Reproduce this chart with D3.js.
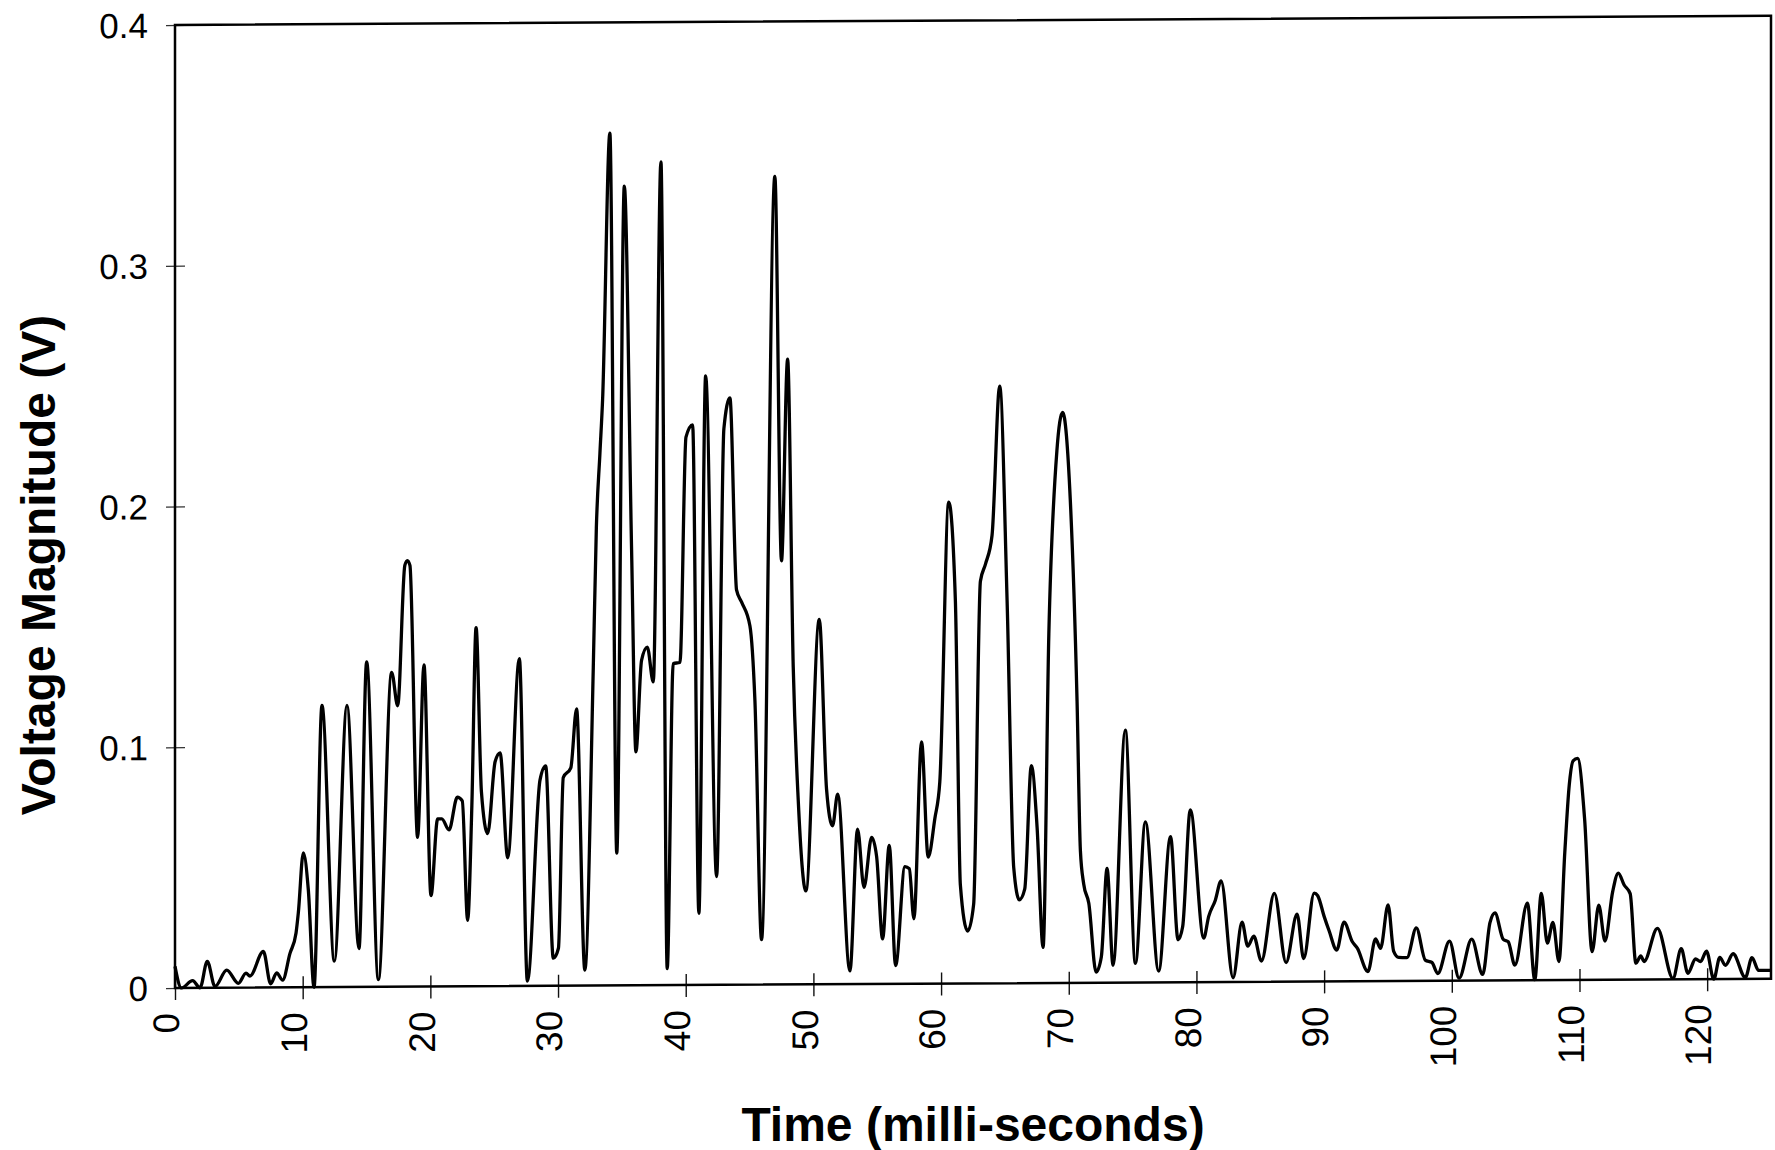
<!DOCTYPE html>
<html>
<head>
<meta charset="utf-8">
<script src="https://cdn.jsdelivr.net/npm/d3@7"></script>
<style>
  body { margin: 0; background: #fff; }
  svg { display: block; }
</style>
</head>
<body>
<div id="graphe"></div>
<script>
//----------------------------------------------------------------
// data read off the scanned plot : time (ms) and voltage (V)
//----------------------------------------------------------------
var temps = [
  0, 0.5, 1.38, 1.96, 2.53, 3.13, 4.05, 4.96, 5.56, 5.87, 6.92, 7.49, 7.96, 8.43, 9.0, 9.48, 9.66,
  10.05, 10.44, 10.89, 11.51, 12.48, 13.47, 14.41, 15.01, 15.93, 16.97, 17.44, 18.0, 18.2, 18.4,
  19.0, 19.5, 20.05, 20.57, 20.9, 21.46, 22.11, 22.5, 22.92, 23.25, 23.58, 24.0, 24.49, 25.07,
  25.46, 26.06, 26.97, 27.6, 28.59, 29.03, 29.63, 30.03, 30.41, 31.0, 31.45, 32.1, 32.76, 33.0,
  33.28, 33.49, 34.06, 34.6, 35.19, 35.76, 36.1, 36.54, 36.99, 37.46, 38.06, 38.55, 39.02, 39.55,
  40.02, 40.54, 41.03, 41.56, 42.42, 42.99, 43.46, 43.98, 44.37, 45.03, 45.42, 45.94, 46.98, 47.5,
  47.98, 48.42, 48.81, 49.41, 50.46, 51.03, 51.5, 51.9, 52.86, 53.46, 53.96, 54.56, 54.95, 55.42,
  55.94, 56.44, 57.17, 57.51, 57.87, 58.47, 58.99, 59.51, 59.9, 60.6, 61.12, 61.51, 62.08, 62.55,
  63.08, 63.47, 63.99, 64.59, 65.17, 65.69, 66.13, 66.55, 67.07, 67.52, 67.99, 68.44, 69.07, 69.52,
  70.12, 70.65, 70.91, 71.17, 71.57, 72.14, 72.55, 73.0, 73.47, 74.43, 75.22, 76.0, 77.04, 77.97,
  78.56, 78.92, 79.52, 80.57, 80.96, 81.48, 81.93, 82.87, 83.57, 84.02, 84.49, 85.09, 86.1, 87.02,
  87.88, 88.4, 89.22, 89.5, 90.0, 90.39, 90.99, 91.56, 92.2, 92.6, 93.43, 94.03, 94.42, 95.01,
  95.45, 95.84, 96.49, 97.22, 97.92, 98.44, 98.9, 99.82, 100.57, 101.56, 102.42, 102.99, 103.38,
  104.03, 104.42, 104.94, 105.92, 106.5, 107.01, 107.48, 107.92, 108.39, 108.85, 109.2, 109.5,
  109.85, 110.4, 110.99, 111.51, 112.0, 112.6, 113.04, 113.5, 113.97, 114.42, 114.8, 115.06,
  116.1, 117.32, 117.97, 118.49, 119.09, 119.48, 119.95, 120.52, 120.99, 121.43, 122.03, 122.99,
  123.51, 124.03, 124.94
];
var tension = [
  0.009, 0.0, 0.003, 0.0, 0.011, 0.0005, 0.0073, 0.0018, 0.006, 0.0048, 0.015, 0.0015, 0.006, 0.003, 0.014, 0.0226, 0.031,
  0.0558, 0.0406, 0.0, 0.117, 0.0108, 0.117, 0.0159, 0.135, 0.003, 0.1306, 0.1167, 0.175, 0.177, 0.175,
  0.062, 0.1336, 0.0378, 0.0696, 0.0696, 0.065, 0.0786, 0.077, 0.0274, 0.075, 0.149, 0.0807, 0.0634, 0.0932,
  0.0969, 0.0533, 0.136, 0.002, 0.0856, 0.0914, 0.0115, 0.0156, 0.0865, 0.0905, 0.115, 0.0065, 0.132, 0.19,
  0.221, 0.2434, 0.354, 0.055, 0.332, 0.181, 0.097, 0.135, 0.1405, 0.126, 0.342, 0.0069, 0.1336, 0.134,
  0.2276, 0.2327, 0.0298, 0.253, 0.045, 0.231, 0.2438, 0.164, 0.159, 0.149, 0.118, 0.0187, 0.3357, 0.176,
  0.2597, 0.132, 0.0768, 0.0388, 0.1516, 0.081, 0.0658, 0.0789, 0.0055, 0.0644, 0.0402, 0.0609, 0.053, 0.0187,
  0.0575, 0.0076, 0.0487, 0.0478, 0.027, 0.1004, 0.0526, 0.0685, 0.0838, 0.2, 0.159, 0.041, 0.0217, 0.0328,
  0.167, 0.174, 0.186, 0.248, 0.159, 0.048, 0.0346, 0.039, 0.0903, 0.0647, 0.0148, 0.145, 0.221, 0.237,
  0.2006, 0.117, 0.055, 0.041, 0.033, 0.0044, 0.0107, 0.0474, 0.0072, 0.1048, 0.0079, 0.0667, 0.0047, 0.0605,
  0.0176, 0.023, 0.0716, 0.0183, 0.0273, 0.034, 0.042, 0.0017, 0.0248, 0.0148, 0.019, 0.0086, 0.0367, 0.0079,
  0.028, 0.0095, 0.0367, 0.0356, 0.027, 0.021, 0.013, 0.0246, 0.0165, 0.0137, 0.004, 0.0175, 0.0136, 0.0316,
  0.0123, 0.0098, 0.0097, 0.022, 0.0086, 0.0076, 0.003, 0.0164, 0.001, 0.0172, 0.0025, 0.024, 0.028,
  0.017, 0.016, 0.0063, 0.032, 0.0002, 0.036, 0.0154, 0.024, 0.0077, 0.053, 0.081, 0.091,
  0.092, 0.067, 0.0117, 0.031, 0.0161, 0.0366, 0.0443, 0.0393, 0.0357, 0.0068, 0.0098, 0.0075,
  0.0212, 0.0004, 0.0127, 0.0025, 0.0084, 0.0073, 0.0116, 0.0, 0.009, 0.0057, 0.0105, 0.0006,
  0.0088, 0.0035, 0.0035
];
var ticksTemps = [0, 10, 20, 30, 40, 50, 60, 70, 80, 90, 100, 110, 120];
var ticksTension = [0, 0.1, 0.2, 0.3, 0.4];

//----------------------------------------------------------------
// svg and plot area
//----------------------------------------------------------------
var largeur = 1775, hauteur = 1150;
var marge = {gauche: 175, haut: 25, droite: 4, bas: 162};
var l = largeur - marge.gauche - marge.droite;
var h = hauteur - marge.haut - marge.bas;
var police = "'Liberation Sans', Arial, Helvetica, sans-serif";

var svg = d3.select("#graphe")
  .append("svg")
  .attr("width", largeur)
  .attr("height", hauteur);

// the scan is a little tilted, the plot group follows it
var g = svg.append("g")
  .attr("transform", "translate(" + marge.gauche + "," + marge.haut + ") skewY(-0.33)");

var x = d3.scaleLinear().domain([0, 125]).range([0, l]);
var y = d3.scaleLinear().domain([0, 0.4]).range([h, 0]);

//----------------------------------------------------------------
// axes
//----------------------------------------------------------------
var axeX = g.append("g")
  .attr("transform", "translate(0," + h + ")")
  .call(d3.axisBottom(x).tickValues(ticksTemps).tickSize(12).tickFormat(d3.format("d")));
axeX.select(".domain").remove();
axeX.selectAll(".tick line")
  .attr("y1", -11)
  .attr("stroke", "#111")
  .attr("stroke-width", 1.4);
axeX.selectAll(".tick text")
  .attr("transform", "rotate(-90)")
  .attr("x", -25)
  .attr("y", 0)
  .attr("dy", "0.1em")
  .style("text-anchor", "end")
  .style("font-family", police)
  .style("font-size", "37px")
  .attr("fill", "#000");

var axeY = g.append("g")
  .call(d3.axisLeft(y).tickValues(ticksTension).tickSize(9)
    .tickFormat(function(d){ return d === 0 ? "0" : d3.format(".1f")(d); }));
axeY.select(".domain").remove();
axeY.selectAll(".tick line")
  .attr("x1", 10)
  .attr("stroke", "#333")
  .attr("stroke-width", 1.2);
axeY.selectAll(".tick text")
  .attr("x", -27)
  .attr("dy", "0.35em")
  .style("font-family", police)
  .style("font-size", "35px")
  .attr("fill", "#000");

// frame
g.append("rect")
  .attr("x", 0)
  .attr("y", 0)
  .attr("width", l)
  .attr("height", h)
  .attr("fill", "none")
  .attr("stroke", "#000")
  .attr("stroke-width", 2.5);

//----------------------------------------------------------------
// the signal
//----------------------------------------------------------------
var ligne = d3.line()
  .x(function(d){ return x(d); })
  .y(function(d, i){ return y(tension[i]); })
  .curve(d3.curveMonotoneX);

g.append("path")
  .datum(temps)
  .attr("d", ligne)
  .attr("fill", "none")
  .attr("stroke", "#000")
  .attr("stroke-width", 3.3)
  .attr("stroke-linejoin", "round");

//----------------------------------------------------------------
// titles
//----------------------------------------------------------------
svg.append("text")
  .attr("x", marge.gauche + l / 2)
  .attr("y", 1141)
  .attr("text-anchor", "middle")
  .style("font-family", police)
  .style("font-weight", "bold")
  .style("font-size", "48px")
  .text("Time (milli-seconds)");

svg.append("text")
  .attr("transform", "translate(55,565) rotate(-90)")
  .attr("text-anchor", "middle")
  .style("font-family", police)
  .style("font-weight", "bold")
  .style("font-size", "48px")
  .text("Voltage Magnitude (V)");
</script>
</body>
</html>
